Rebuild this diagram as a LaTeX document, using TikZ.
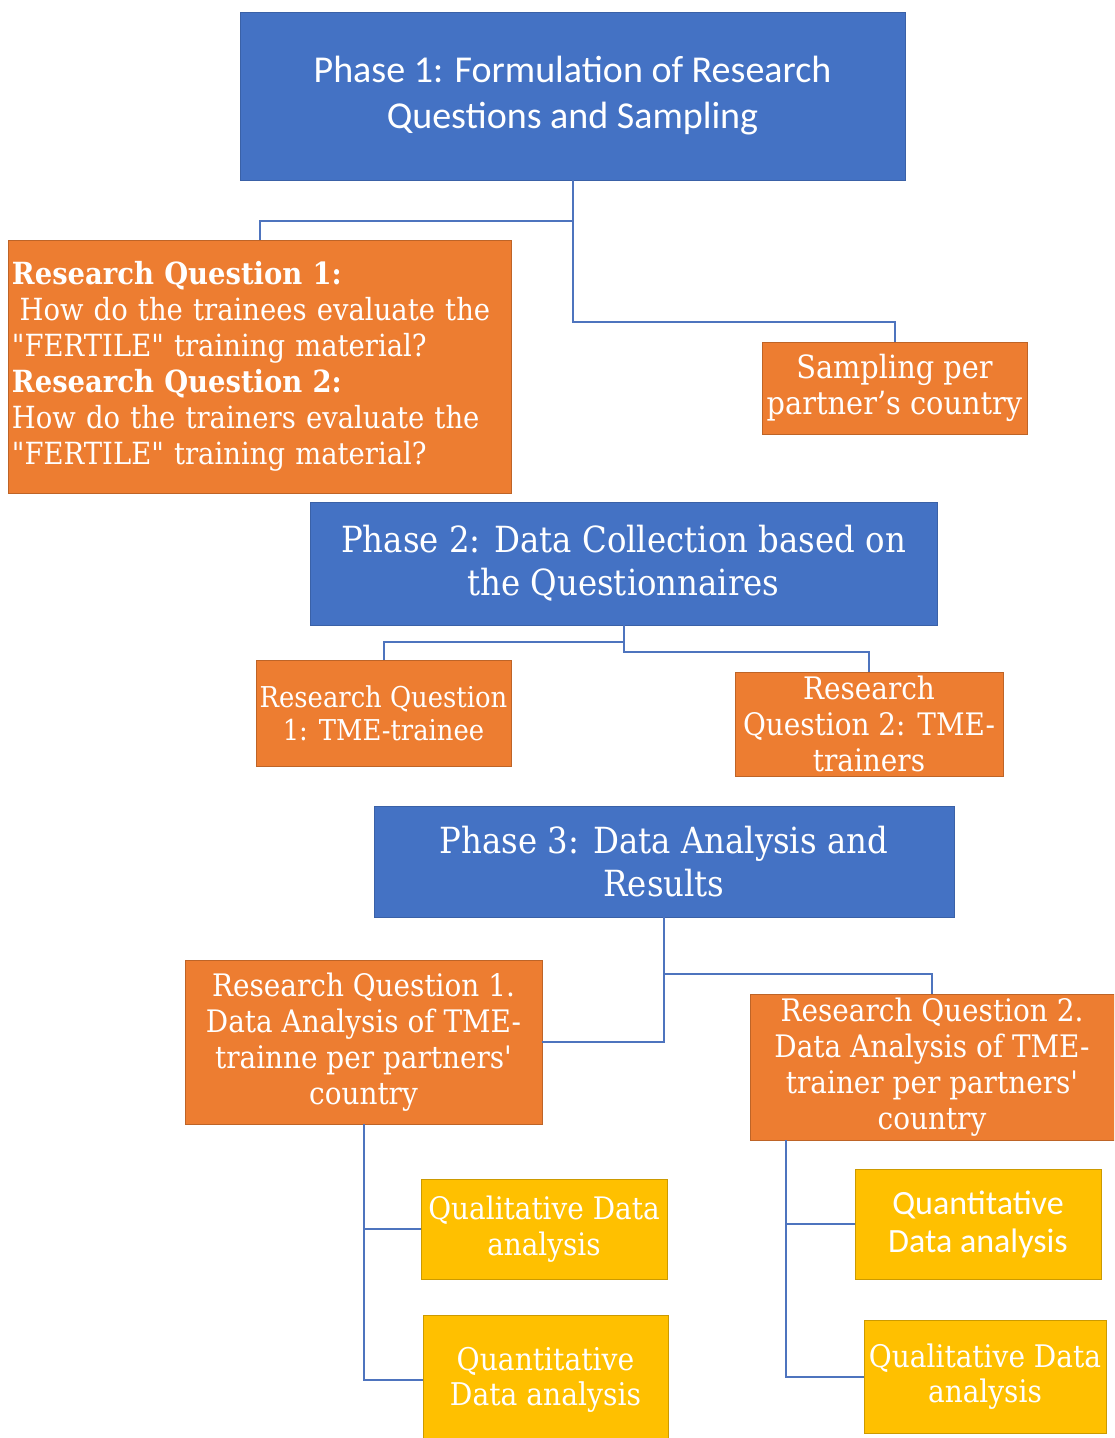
\documentclass[tikz,border=0pt]{standalone}
\usepackage{fontspec}
\newfontfamily\camb[FakeStretch=0.9]{DejaVu Serif}
\newfontfamily\calib{Carlito}
\newcommand\fcam[2]{\camb\fontsize{#1}{#2}\selectfont}
\newcommand\fcal[2]{\calib\fontsize{#1}{#2}\selectfont}
\definecolor{pblue}{HTML}{4472C4}
\definecolor{porange}{HTML}{ED7D31}
\definecolor{pyellow}{HTML}{FFC000}
\definecolor{lnblue}{HTML}{4E74BE}
\tikzset{
  bluebox/.style={fill=pblue, draw=pblue!85!black, line width=0.8pt, text=white, align=center, inner sep=0pt},
  orangebox/.style={fill=porange, draw=porange!80!black, line width=0.8pt, text=white, align=center, inner sep=0pt},
  yellowbox/.style={fill=pyellow, draw=pyellow!80!black, line width=0.8pt, text=white, align=center, inner sep=0pt},
  conn/.style={draw=lnblue, line width=2pt}
}
\begin{document}
\begin{tikzpicture}[x=1pt,y=-1pt]
\useasboundingbox (0,0) rectangle (1114,1438);
\clip (0,0) rectangle (1114,1438);
% Phase 1
\node[bluebox, minimum width=665pt, minimum height=168pt, font=\fcal{38}{46}] (p1) at (572.5,96)
  {Phase 1: Formulation of Research\\Questions and Sampling};
\node[orangebox, minimum width=503pt, minimum height=253pt, text width=495pt, align=left, font=\fcam{30.5}{36}] (rq) at (259.5,366.5)
  {\textbf{Research Question 1:}\\\hspace*{0.25em}How do the trainees evaluate the\\"FERTILE" training material?\\\textbf{Research Question 2:}\\How do the trainers evaluate the\\"FERTILE" training material?};
\node[orangebox, minimum width=265pt, minimum height=92pt, font=\fcam{32}{36}] (samp) at (894.5,388)
  {Sampling per\\partner’s country};
% Phase 2
\node[bluebox, minimum width=627pt, minimum height=123pt, font=\fcam{36}{43}] (p2) at (623.5,563.5)
  {Phase 2: Data Collection based on\\the Questionnaires};
\node[orangebox, minimum width=255pt, minimum height=106pt, font=\fcam{28.7}{33}] (t1) at (383.5,713)
  {Research Question\\1: TME-trainee};
\node[orangebox, minimum width=268pt, minimum height=104pt, font=\fcam{31}{36}] (t2) at (869,724)
  {Research\\Question 2: TME-\\trainers};
% Phase 3
\node[bluebox, minimum width=580pt, minimum height=111pt, font=\fcam{36}{43}] (p3) at (664,861.5)
  {Phase 3: Data Analysis and\\Results};
\node[orangebox, minimum width=357pt, minimum height=164pt, font=\fcam{31}{36}] (d1) at (363.5,1042)
  {Research Question 1.\\Data Analysis of TME-\\trainne per partners'\\country};
\node[orangebox, minimum width=364pt, minimum height=146pt, font=\fcam{31}{36}] (d2) at (932,1067)
  {Research Question 2.\\Data Analysis of TME-\\trainer per partners'\\country};
\node[yellowbox, minimum width=246pt, minimum height=100pt, font=\fcam{31}{36}] (ql1) at (544,1229)
  {Qualitative Data\\analysis};
\node[yellowbox, minimum width=245pt, minimum height=129pt, font=\fcam{31.3}{35}] (qn1) at (545.5,1379.5)
  {Quantitative\\Data analysis};
\node[yellowbox, minimum width=246pt, minimum height=110pt, font=\fcal{34}{38}] (qn2) at (978,1224)
  {Quantitative\\Data analysis};
\node[yellowbox, minimum width=242pt, minimum height=113pt, font=\fcam{31.1}{35}] (ql2) at (985,1376.5)
  {Qualitative Data\\analysis};
% connectors
\draw[conn] (p1.south) -- ++(0,41) -| (rq.north);
\draw[conn] (p1.south) |- ([yshift=20pt]samp.north) -- (samp.north);
\draw[conn] (p2.south) -- ++(0,17) -| (t1.north);
\draw[conn] (p2.south) |- ([yshift=20pt]t2.north) -- (t2.north);
\draw[conn] (p3.south) |- (d1.east);
\draw[conn] (p3.south) -- ++(0,57) -| (d2.north);
\draw[conn] (d1.south) |- (ql1.west);
\draw[conn] (d1.south) |- (qn1.west);
\draw[conn] ([xshift=-146pt]d2.south) |- (qn2.west);
\draw[conn] ([xshift=-146pt]d2.south) |- (ql2.west);
\end{tikzpicture}
\end{document}
